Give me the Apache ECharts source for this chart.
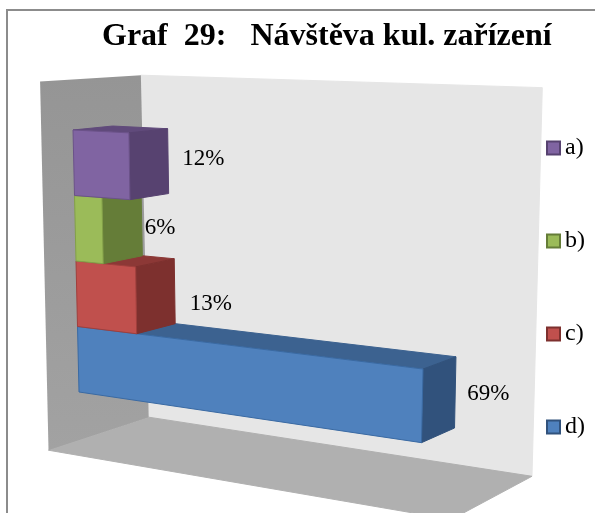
<!DOCTYPE html>
<html>
<head>
<meta charset="utf-8">
<style>
  html, body { margin: 0; padding: 0; background: #fff; }
  #main { width: 595px; height: 513px; }
</style>
<script src="https://cdn.jsdelivr.net/npm/echarts@6/dist/echarts.min.js"></script>
</head>
<body>
<div id="main"></div>
<script>
const titleText = 'Graf  29:   Návštěva kul. zařízení'
const categories = ['a)', 'b)', 'c)', 'd)']
const shares = [12, 6, 13, 69]

// front, side, top, edge
const colors = [
  ['#8064a2', '#574270', '#604a7b', '#6b5289'],
  ['#9bbb59', '#657d38', '#71893f', '#83a048'],
  ['#c0504d', '#7d302e', '#8c3836', '#a03f3c'],
  ['#4f81bd', '#31527c', '#3c6290', '#3a6aa3']
]
// label offset from the middle of the bar's far right edge
const labelGap = [[14, -2], [3, 4], [15, 13], [12, 2]]

const gridLeft = 73
const gridTop = 130
const pctPx = 4.31
const rowPx = 65.5
const wallMax = 79

// the flat grid is bent into the Excel style 3d view, d = depth (0 front of bar, 1 back of bar)
function project(px, py, d) {
  const v = (px - gridLeft) / pctPx
  const u = (py - gridTop) / rowPx
  const w = 1 - 0.0016 * v + 0.03 * d
  const x = gridLeft + 1.5 * u + (px - gridLeft) - 0.041 * (u - 3.5) * v + 43 * d
  const y = py + 0.026 * v - 0.2 * d
  return [x / w, y / w]
}

function face(pts, fill, stroke) {
  return {
    type: 'polygon',
    shape: { points: pts },
    style: { fill: fill, stroke: stroke || fill, lineWidth: 1 }
  }
}

function renderBar(params, api) {
  const idx = api.value(1)
  const c = colors[idx]
  const x0 = api.coord([0, idx])[0]
  const end = api.coord([api.value(0), idx])
  const band = api.size([0, 1])[1]
  const x1 = end[0]
  const y0 = end[1] - band / 2
  const y1 = end[1] + band / 2
  const far = project(x1, end[1], 1)
  return {
    type: 'group',
    children: [
      face([project(x0, y0, 0), project(x0, y0, 1), project(x1, y0, 1), project(x1, y0, 0)], c[2]),
      face([project(x1, y0, 0), project(x1, y0, 1), project(x1, y1, 1), project(x1, y1, 0)], c[1]),
      face([project(x0, y0, 0), project(x1, y0, 0), project(x1, y1, 0), project(x0, y1, 0)], c[0], c[3]),
      {
        type: 'text',
        style: {
          x: far[0] + labelGap[idx][0],
          y: far[1] + labelGap[idx][1],
          text: api.value(0) + '%',
          fill: '#000',
          font: '23px "Liberation Serif"',
          align: 'left',
          verticalAlign: 'middle'
        }
      }
    ]
  }
}

function renderWalls(params, api) {
  const x0 = api.coord([0, 0])[0]
  const x1 = api.coord([wallMax, 0])[0]
  const band = api.size([0, 1])[1]
  const top = gridTop - 0.77 * band
  const bottom = gridTop + 4.73 * band
  const dFront = -0.76
  const dBack = 1.78
  const sideFill = new echarts.graphic.LinearGradient(0, 0, 0, 1, [
    { offset: 0, color: '#959595' },
    { offset: 1, color: '#a2a2a2' }
  ])
  return {
    type: 'group',
    children: [
      face([project(x0, top, dBack), project(x1, top, dBack), project(x1, bottom, dBack), project(x0, bottom, dBack)], '#e6e6e6'),
      face([project(x0, bottom, dFront), project(x0, bottom, dBack), project(x1, bottom, dBack), project(x1, bottom, dFront)], '#b0b0b0'),
      face([project(x0, top, dFront), project(x0, top, dBack), project(x0, bottom, dBack), project(x0, bottom, dFront)], sideFill, 'rgba(0,0,0,0)')
    ]
  }
}

const myChart = echarts.init(document.getElementById('main'))

const barSeries = categories.map((name, i) => ({
  name: name,
  type: 'custom',
  renderItem: renderBar,
  z: 10 - i,
  itemStyle: { color: colors[i][0], borderColor: colors[i][1], borderWidth: 2 },
  encode: { x: 0, y: 1 },
  data: [[shares[i], i]]
}))

myChart.setOption({
  animation: false,
  backgroundColor: '#fff',
  title: {
    text: titleText,
    left: 97,
    top: 16,
    textStyle: { fontFamily: 'Liberation Serif', fontWeight: 'bold', fontSize: 32, color: '#000' }
  },
  legend: {
    data: categories,
    orient: 'vertical',
    left: 541,
    top: 131,
    itemWidth: 13,
    itemHeight: 13,
    itemGap: 69,
    icon: 'rect',
    textStyle: { fontFamily: 'Liberation Serif', fontSize: 24, lineHeight: 24, color: '#000' }
  },
  grid: { left: gridLeft, top: gridTop, width: pctPx * 100, height: rowPx * 4 },
  xAxis: { type: 'value', min: 0, max: 100, show: false },
  yAxis: { type: 'category', data: categories, inverse: true, show: false },
  graphic: [{
    type: 'polyline',
    shape: { points: [[7, 513], [7, 10], [595, 10]] },
    style: { stroke: '#8c8c8c', lineWidth: 2, fill: null }
  }],
  series: [{
    type: 'custom',
    name: 'walls',
    renderItem: renderWalls,
    z: 1,
    silent: true,
    data: [[0, 0]]
  }].concat(barSeries)
})
</script>
</body>
</html>
